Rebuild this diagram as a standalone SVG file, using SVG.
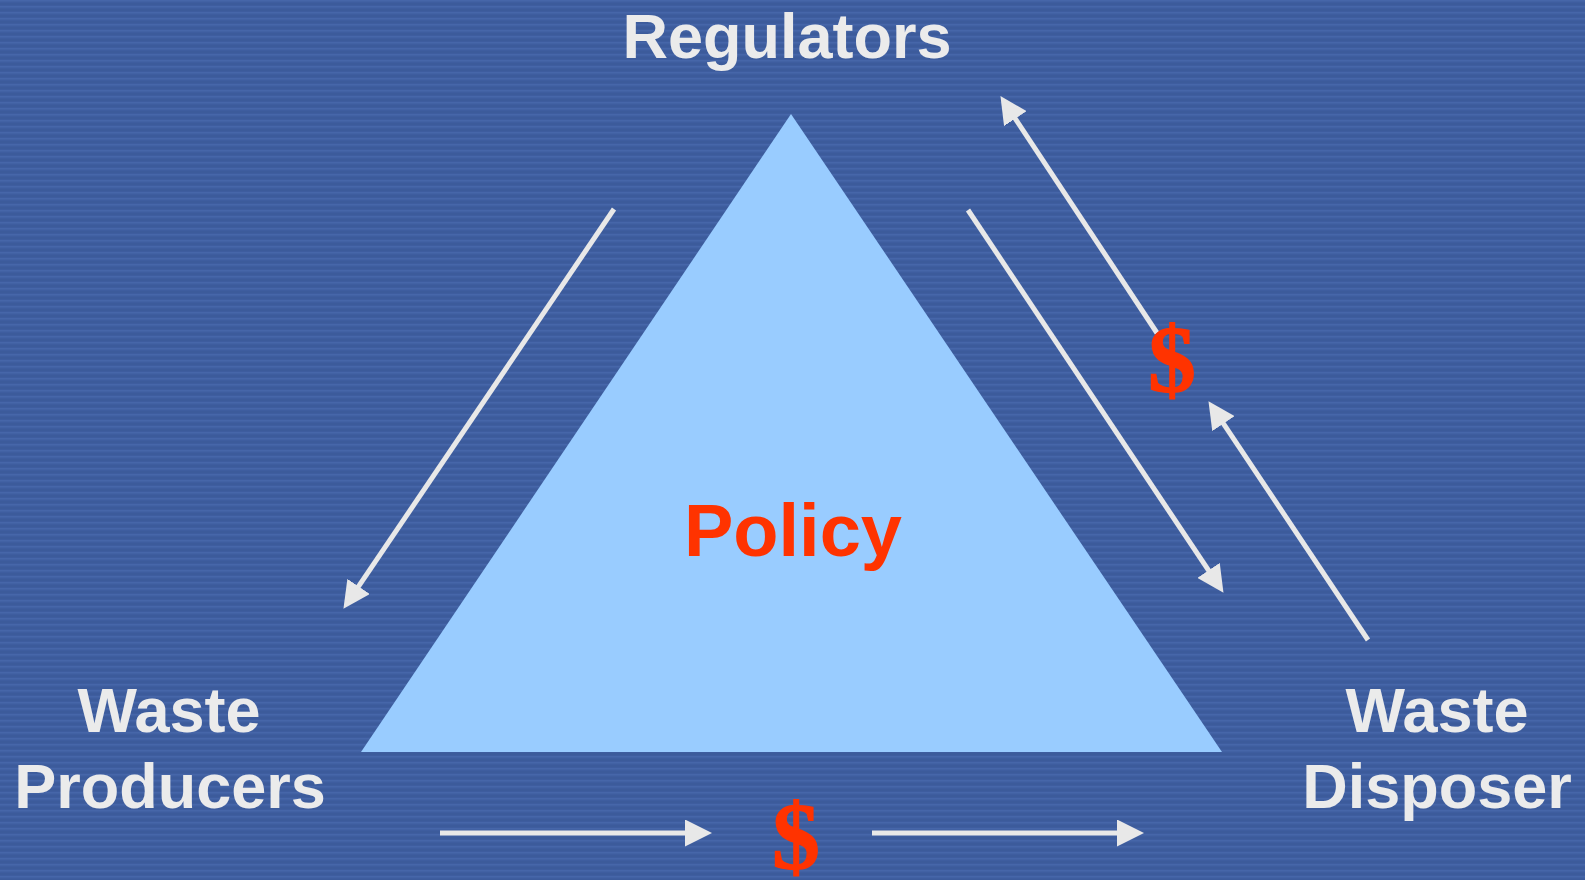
<svg xmlns="http://www.w3.org/2000/svg" width="1585" height="880" viewBox="0 0 1585 880">
  <defs>
    <!-- horizontally striped slide background -->
    <pattern id="stripes" width="8" height="6" patternUnits="userSpaceOnUse">
      <rect width="8" height="6" fill="#3e5d9f"/>
      <rect y="0" width="8" height="1.5" fill="#4666a9"/>
      <rect y="3.5" width="8" height="1" fill="#3a5898"/>
    </pattern>
    <marker id="head" markerUnits="userSpaceOnUse" markerWidth="27" markerHeight="27" refX="16" refY="13.5" orient="auto">
      <path d="M0,0 L27,13.5 L0,27 z" fill="#e8e8e8"/>
    </marker>
  </defs>
  <style>
    .label { font-family: "Liberation Sans", Arial, sans-serif; font-weight: bold; fill: #ebebeb; text-anchor: middle; }
    .policy { font-family: "Liberation Sans", Arial, sans-serif; font-weight: bold; fill: #ff3300; }
    .money { font-family: "Liberation Serif", "Times New Roman", serif; font-weight: bold; fill: #ff3300; stroke: #ff3300; stroke-width: 1.2; text-anchor: middle; font-size: 96px; }
    .flow { stroke: #e8e8e8; stroke-width: 5; fill: none; marker-end: url(#head); }
  </style>

  <rect width="1585" height="880" fill="url(#stripes)"/>

  <g id="policy">
    <polygon points="791,114 361,752 1222,752" fill="#99ccff"/>
    <text class="policy" x="684" y="556" font-size="74">Policy</text>
  </g>

  <g id="regulators">
    <text class="label" x="787" y="58" font-size="63">Regulators</text>
  </g>

  <g id="waste-producers">
    <text class="label" x="169" y="732" font-size="63">Waste</text>
    <text class="label" x="170" y="808" font-size="63">Producers</text>
  </g>

  <g id="waste-disposer">
    <text class="label" x="1437" y="732" font-size="63">Waste</text>
    <text class="label" x="1437" y="808" font-size="63">Disposer</text>
  </g>

  <g id="connectors">
    <line class="flow" x1="614" y1="209" x2="349.6" y2="599.7"/>
    <line class="flow" x1="968" y1="210" x2="1217.4" y2="583.7"/>
    <line class="flow" x1="1157" y1="333" x2="1006.5" y2="105.3"/>
    <line class="flow" x1="1368" y1="640" x2="1214.6" y2="410.3"/>
    <line class="flow" x1="440" y1="833" x2="701" y2="833"/>
    <line class="flow" x1="872" y1="833" x2="1133" y2="833"/>
  </g>

  <g id="payments">
    <text class="money" x="1172" y="392">$</text>
    <text class="money" x="796" y="869">$</text>
  </g>
</svg>
